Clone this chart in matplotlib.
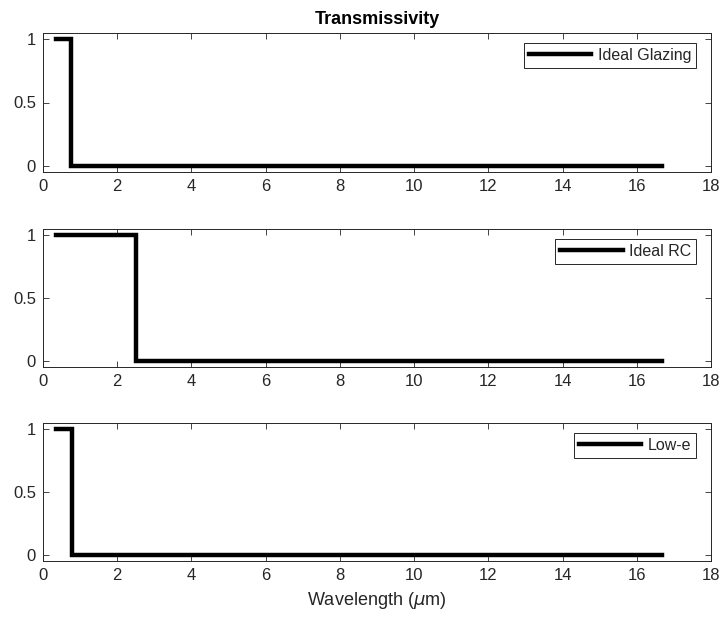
import matplotlib
matplotlib.use("Agg")
import matplotlib.pyplot as plt

plt.rcParams['font.family'] = ['Liberation Sans', 'DejaVu Sans']
plt.rcParams['mathtext.fontset'] = 'dejavusans'

# Data: step transmissivity profiles (wavelength in micrometres)
glazing_x = [0.35, 0.76, 0.76, 16.67]
glazing_y = [1, 1, 0, 0]
rc_x = [0.35, 2.5, 2.5, 16.67]
rc_y = [1, 1, 0, 0]
lowe_x = [0.35, 0.77, 0.77, 16.67]
lowe_y = [1, 1, 0, 0]

labels = ["Ideal Glazing", "Ideal RC", "Low-e"]
series = [(glazing_x, glazing_y), (rc_x, rc_y), (lowe_x, lowe_y)]
xticks = [0, 2, 4, 6, 8, 10, 12, 14, 16, 18]
yticks = [0, 0.5, 1]
yticklabels = ["0", "0.5", "1"]

W, H = 723, 618
fig = plt.figure(figsize=(W / 100, H / 100), dpi=100)

axcol = '#262626'
tops = [33, 229, 423]
bottoms = [172, 367, 561]
left, right = 43, 711

axes = []
for i, ((x, y), lab) in enumerate(zip(series, labels)):
    ax = fig.add_axes([left / W, 1 - bottoms[i] / H, (right - left) / W, (bottoms[i] - tops[i]) / H])
    ax.plot(x, y, color='black', linewidth=3.2, label=lab, solid_joinstyle='miter')
    ax.set_xlim(0, 18)
    ax.set_ylim(-0.05, 1.05)
    ax.set_xticks(xticks)
    ax.set_yticks(yticks)
    ax.set_yticklabels(yticklabels)
    ax.tick_params(direction='in', top=True, right=True, length=4, width=0.6,
                   colors=axcol, labelsize=12, labelcolor=axcol, pad=5)
    for s in ax.spines.values():
        s.set_color(axcol)
        s.set_linewidth(0.7)
    leg = ax.legend(loc='upper right', fontsize=11.5, handlelength=3.9, handletextpad=0.4,
                    borderpad=0.3, borderaxespad=0.0, fancybox=False, framealpha=1,
                    bbox_to_anchor=((696 - left) / (right - left), 1 - 10 / (bottoms[i] - tops[i])))
    leg.get_frame().set_edgecolor(axcol)
    leg.get_frame().set_linewidth(0.7)
    for t in leg.get_texts():
        t.set_color(axcol)
    axes.append(ax)

axes[0].set_title("Transmissivity", fontsize=13, fontweight='bold', color='black', pad=6.5)
axes[2].set_xlabel(r"Wavelength ($\mu$m)", fontsize=13, color=axcol, labelpad=5)

fig.savefig("out.png", dpi=100)
